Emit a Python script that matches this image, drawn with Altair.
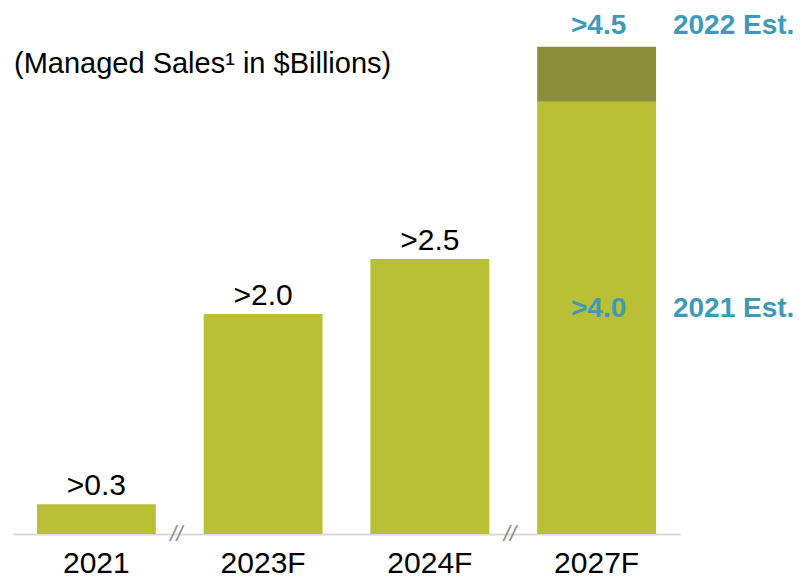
import altair as alt
import pandas as pd

# ---- data ----
categories = ["2021", "2023F", "2024F", "2027F"]
base_values = [0.27, 2.0, 2.5, 3.93]        # light bars (2021 Est.)
extra_values = [0.0, 0.0, 0.0, 0.50]        # dark increment (2022 Est.)
value_labels = [">0.3", ">2.0", ">2.5", ""]
est_2021_label = ">4.0"
est_2022_label = ">4.5"
legend_2021 = "2021 Est."
legend_2022 = "2022 Est."
title_text = "(Managed Sales\u00b9 in $Billions)"
break_after = ["2021", "2024F"]

LIGHT = "#b9c036"
DARK = "#8a8e39"
BLUE = "#3e9ab7"
FONT = "Liberation Sans"

df = pd.DataFrame({
    "cat": categories,
    "base": base_values,
    "top": [b + e for b, e in zip(base_values, extra_values)],
    "label": value_labels,
})
df_extra = df[df["top"] > df["base"]].copy()
df_labels = df[df["label"] != ""].copy()
df_est = df_extra.copy()
df_est["l21"] = est_2021_label
df_est["l22"] = est_2022_label
df_est["g21"] = legend_2021
df_est["g22"] = legend_2022
df_est["mid"] = df_est["base"] / 2
df_breaks = pd.DataFrame({"cat": break_after, "mark": ["//"] * len(break_after)})

x = alt.X("cat:N", sort=categories, title=None,
          scale=alt.Scale(paddingInner=0.287, paddingOuter=0.1435),
          axis=alt.Axis(labelAngle=0, ticks=False, domainColor="#d9d9d9", domainWidth=2,
                        labelFont=FONT, labelFontSize=30,
                        labelColor="#000000", labelPadding=14))
yscale = alt.Scale(domain=[0, 4.782], nice=False, zero=True)
y = alt.Y("base:Q", scale=yscale, axis=None)
xc = alt.X("cat:N", sort=categories)

bars = alt.Chart(df).mark_bar(color=LIGHT).encode(x=x, y=y)
dark = alt.Chart(df_extra).mark_bar(color=DARK).encode(
    x=xc, y=alt.Y("base:Q", scale=yscale, axis=None), y2="top:Q")

vals = alt.Chart(df_labels).mark_text(font=FONT, fontSize=30, baseline="bottom",
                                      dy=-3, color="#000000").encode(
    x=xc, y=alt.Y("base:Q", scale=yscale), text="label:N")

t22 = alt.Chart(df_est).mark_text(font=FONT, fontSize=28, fontWeight="bold",
                                  baseline="alphabetic", dx=2, dy=-13, color=BLUE).encode(
    x=xc, y=alt.Y("top:Q", scale=yscale), text="l22:N")
g22 = alt.Chart(df_est).mark_text(font=FONT, fontSize=28, fontWeight="bold",
                                  baseline="alphabetic", dx=137, dy=-13, color=BLUE).encode(
    x=xc, y=alt.Y("top:Q", scale=yscale), text="g22:N")
t21 = alt.Chart(df_est).mark_text(font=FONT, fontSize=28, fontWeight="bold",
                                  baseline="middle", dx=2, dy=-9, color=BLUE).encode(
    x=xc, y=alt.Y("mid:Q", scale=yscale), text="l21:N")
g21 = alt.Chart(df_est).mark_text(font=FONT, fontSize=28, fontWeight="bold",
                                  baseline="middle", dx=137, dy=-9, color=BLUE).encode(
    x=xc, y=alt.Y("mid:Q", scale=yscale), text="g21:N")

breaks = alt.Chart(df_breaks).mark_text(font=FONT, fontSize=22, fontStyle="italic",
                                        color="#8c8c8c", dx=80, baseline="middle").encode(
    x=xc, y=alt.value(526), text="mark:N")

chart = alt.layer(bars, dark, vals, t22, g22, t21, g21, breaks).properties(
    width=667, height=526,
    autosize="none",
    padding={"left": 5, "top": 0, "right": 118, "bottom": 44},
    title=alt.TitleParams(title_text, anchor="start", frame="group", orient="top",
                          font=FONT, fontSize=29, fontWeight="normal",
                          color="#000000", baseline="alphabetic", dx=1, dy=94, offset=0),
).configure_view(stroke=None)

chart.save("out.html", embed_options={"renderer": "svg", "actions": False})
